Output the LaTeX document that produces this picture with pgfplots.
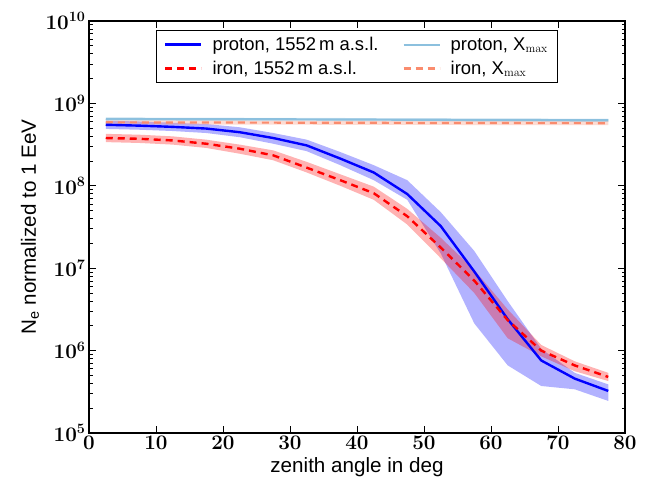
\documentclass[border=0pt]{standalone}
\usepackage[no-math]{fontspec}
\setmainfont{Liberation Sans}
\usepackage{pgfplots}
\pgfplotsset{compat=1.18}
\definecolor{pxmax}{RGB}{140,192,222}
\definecolor{fexmax}{RGB}{250,140,110}
\begin{document}
\begin{tikzpicture}
\begin{axis}[
  scale only axis, width=536bp, height=412bp,
  xmin=0, xmax=80, ymin=1e5, ymax=1e10, ymode=log,
  xtick={0,10,...,80},
  ytick={1e5,1e6,1e7,1e8,1e9,1e10},
  xtick pos=both, ytick pos=both,
  tick align=inside,
  major tick length=7bp, minor tick length=3.5bp,
  every tick/.style={black, line width=0.8bp},
  axis line style={line width=1.1bp},
  tick label style={font=\fontsize{20}{24}\selectfont\boldmath},
  label style={font=\fontsize{20.7}{24}\selectfont},
  xlabel={zenith angle in deg},
  ylabel={N\textsubscript{e} normalized to 1 EeV},
  xlabel style={at={(axis description cs:0.5,0)}, yshift=-34bp, anchor=center},
  ylabel style={at={(axis description cs:-0.110,0.5)}, anchor=center},
  legend columns=2,
  legend cell align=left,
  legend image code/.code={\draw[#1] (0bp,0bp) -- (36bp,0bp);},
  legend style={at={(axis description cs:0.5,0.978)}, anchor=north,
    draw=black, line width=1.3bp, font=\fontsize{18.5}{22}\selectfont,
    inner xsep=7.5bp, inner ysep=4.5bp,
    /tikz/row sep=5bp,
    /tikz/every odd column/.append style={column sep=8bp},
    /tikz/every even column/.append style={column sep=22bp}},
]
% bands
\addplot[draw=none, fill=blue, fill opacity=0.3, forget plot] coordinates {
(2.5,4.90e8) (7.5,4.79e8) (12.5,4.62e8) (17.5,4.37e8) (22.5,3.89e8) (27.5,3.24e8)
(32.5,2.63e8) (37.5,1.78e8) (42.5,1.17e8) (47.5,6.76e7) (52.5,1.51e7) (57.5,2.14e6)
(62.5,6.61e5) (67.5,3.72e5) (72.5,3.39e5) (77.5,2.45e5)
(77.5,3.89e5) (72.5,5.37e5) (67.5,1.05e6) (62.5,3.98e6) (57.5,1.62e7) (52.5,4.79e7)
(47.5,1.17e8) (42.5,1.78e8) (37.5,2.57e8) (32.5,3.63e8) (27.5,4.37e8) (22.5,5.13e8)
(17.5,5.62e8) (12.5,5.82e8) (7.5,6.03e8) (2.5,6.17e8)} -- cycle;
\addplot[draw=none, fill=red, fill opacity=0.3, forget plot] coordinates {
(2.5,3.39e8) (7.5,3.31e8) (12.5,3.16e8) (17.5,2.88e8) (22.5,2.45e8) (27.5,2.04e8)
(32.5,1.45e8) (37.5,1.00e8) (42.5,6.76e7) (47.5,3.39e7) (52.5,1.32e7) (57.5,5.01e6)
(62.5,1.41e6) (67.5,8.51e5) (72.5,5.62e5) (77.5,4.27e5)
(77.5,5.37e5) (72.5,7.41e5) (67.5,1.17e6) (62.5,3.16e6) (57.5,9.55e6) (52.5,2.34e7)
(47.5,5.25e7) (42.5,9.77e7) (37.5,1.38e8) (32.5,1.95e8) (27.5,2.69e8) (22.5,3.16e8)
(17.5,3.63e8) (12.5,3.98e8) (7.5,4.17e8) (2.5,4.27e8)} -- cycle;
\addplot[draw=none, fill=pxmax, fill opacity=0.3, forget plot] coordinates {
(2.5,6.17e8) (77.5,5.96e8) (77.5,6.53e8) (2.5,6.76e8)} -- cycle;
\addplot[draw=none, fill=fexmax, fill opacity=0.3, forget plot] coordinates {
(2.5,5.56e8) (77.5,5.43e8) (77.5,6.10e8) (2.5,6.24e8)} -- cycle;
% Xmax lines
\addplot[pxmax, line width=2.2bp, forget plot] coordinates {
(2.5,6.46e8) (7.5,6.45e8) (12.5,6.44e8) (17.5,6.43e8) (22.5,6.42e8) (27.5,6.41e8)
(32.5,6.40e8) (37.5,6.38e8) (42.5,6.36e8) (47.5,6.34e8) (52.5,6.32e8) (57.5,6.30e8)
(62.5,6.29e8) (67.5,6.27e8) (72.5,6.26e8) (77.5,6.24e8)};
\addplot[fexmax, line width=2.2bp, dash pattern=on 7bp off 5bp, forget plot] coordinates {
(2.5,5.89e8) (7.5,5.88e8) (12.5,5.87e8) (17.5,5.86e8) (22.5,5.85e8) (27.5,5.84e8)
(32.5,5.83e8) (37.5,5.82e8) (42.5,5.81e8) (47.5,5.80e8) (52.5,5.79e8) (57.5,5.78e8)
(62.5,5.77e8) (67.5,5.76e8) (72.5,5.76e8) (77.5,5.75e8)};
% main lines
\addplot[blue, line width=2.4bp, forget plot] coordinates {
(2.5,5.50e8) (7.5,5.37e8) (12.5,5.19e8) (17.5,4.95e8) (22.5,4.47e8) (27.5,3.80e8)
(32.5,3.09e8) (37.5,2.14e8) (42.5,1.45e8) (47.5,7.94e7) (52.5,3.24e7) (57.5,9.12e6)
(62.5,2.40e6) (67.5,7.59e5) (72.5,4.57e5) (77.5,3.24e5)};
\addplot[red, line width=2.4bp, dash pattern=on 7bp off 5bp, forget plot] coordinates {
(2.5,3.80e8) (7.5,3.72e8) (12.5,3.55e8) (17.5,3.24e8) (22.5,2.82e8) (27.5,2.34e8)
(32.5,1.66e8) (37.5,1.17e8) (42.5,8.13e7) (47.5,4.27e7) (52.5,1.78e7) (57.5,7.08e6)
(62.5,2.34e6) (67.5,1.00e6) (72.5,6.61e5) (77.5,4.79e5)};
% legend
\addlegendimage{blue, line width=2.4bp}
\addlegendentry{proton, 1552\,m a.s.l.}
\addlegendimage{pxmax, line width=2.2bp}
\addlegendentry{proton, X$_{\mathrm{max}}$}
\addlegendimage{red, line width=2.4bp, dash pattern=on 7bp off 5bp}
\addlegendentry{iron, 1552\,m a.s.l.}
\addlegendimage{fexmax, line width=2.2bp, dash pattern=on 7bp off 5bp}
\addlegendentry{iron, X$_{\mathrm{max}}$}
\end{axis}
\pgfresetboundingbox
\path (current axis.south west) ++(-89bp,-51bp) rectangle ([xshift=23bp,yshift=21bp]current axis.north east);
\end{tikzpicture}
\end{document}
